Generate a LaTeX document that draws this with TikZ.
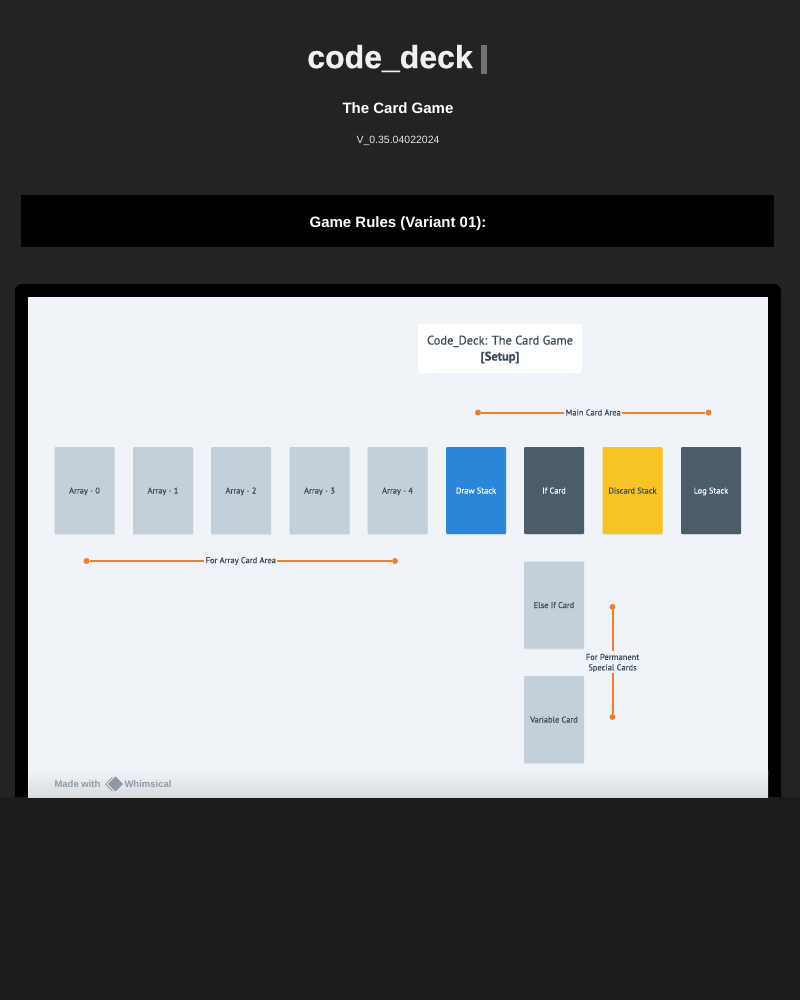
\documentclass[tikz,border=0pt]{standalone}
\usepackage{fontspec}
\setmainfont{Liberation Sans}
\newfontfamily\cardfont[RawFeature={embolden=0.3}]{PT Sans}
\newfontfamily\headfont[RawFeature={embolden=0.6}]{Liberation Sans Bold}
\usetikzlibrary{shapes.geometric,shadows}
\definecolor{pagetop}{HTML}{232323}
\definecolor{pagebottom}{HTML}{1C1C1C}
\definecolor{boardbg}{HTML}{F0F4F8}
\definecolor{cardgrey}{HTML}{C3CFD9}
\definecolor{carddark}{HTML}{4B5C6B}
\definecolor{cardblue}{HTML}{2B86D9}
\definecolor{cardyellow}{HTML}{F7C325}
\definecolor{inkdark}{HTML}{3A4A58}
\definecolor{spanorange}{HTML}{EB7F33}
\definecolor{markgrey}{HTML}{8F9AA5}
\tikzset{
  card/.style={rectangle, rounded corners=1pt, minimum width=60pt, minimum height=87pt, inner sep=0pt,
    fill=cardgrey, text=inkdark, text height=7pt, text depth=1pt, font=\cardfont\fontsize{8.4}{10}\selectfont,
    drop shadow={opacity=0.12, shadow xshift=0pt, shadow yshift=-1pt}},
  cardblue/.style={card, fill=cardblue, text=white},
  carddark/.style={card, fill=carddark, text=white},
  cardyellow/.style={card, fill=cardyellow},
  spanend/.style={circle, fill=spanorange, minimum size=6pt, inner sep=0pt},
  spanline/.style={draw=spanorange, line width=2pt},
  spanlabel/.style={fill=boardbg, text=inkdark, inner sep=1.2pt, align=center,
    font=\cardfont\fontsize{8.5}{10.5}\selectfont},
  pagetext/.style={text=white, inner sep=0pt},
}
\begin{document}
\begin{tikzpicture}[x=1pt, y=-1pt]
\useasboundingbox (0,0) rectangle (800,1000);
% page
\fill[pagetop] (0,0) rectangle (800,797);
\fill[pagebottom] (0,797) rectangle (800,1000);
\node[pagetext, font=\headfont\fontsize{32}{36}\selectfont, text=white!94!black] (title) at (390,58.5) {code\_deck};
\fill[gray!90!black] (481,45) rectangle (487,74);
\node[pagetext, font=\fontsize{15}{18}\selectfont\bfseries] (subtitle) at (398,108.5) {The Card Game};
\node[pagetext, font=\fontsize{10.5}{13}\selectfont, text=white!90!black] (version) at (398,141) {V\_0.35.04022024};
\fill[black] (21,195) rectangle (774,247);
\node[pagetext, font=\fontsize{15}{18}\selectfont\bfseries] (rules) at (398,223.5) {Game Rules (Variant 01):};
% frame
\fill[black] (15,797) -- (15,291) arc[start angle=180, end angle=270, radius=7] -- (774,284)
  arc[start angle=270, end angle=360, radius=7] -- (781,797) -- cycle;
\fill[boardbg] (28,297) rectangle (768,797);
\shade[top color=boardbg, bottom color=black!10!boardbg] (28,770) rectangle (768,797);
% heading
\node[rectangle, rounded corners=2pt, fill=white, minimum width=164pt, minimum height=50pt, align=center, inner sep=0pt,
  text=inkdark, font=\cardfont\fontsize{12.5}{16}\selectfont,
  drop shadow={opacity=0.06, shadow xshift=0pt, shadow yshift=-1pt}] (heading) at (500,348.5) {\rule{0pt}{11pt}Code\_Deck: The Card Game\\\textbf{[Setup]}};
% cards
\node[card] (array0) at (84.5,490.5) {Array - 0};
\node[card] (array1) at (163,490.5) {Array - 1};
\node[card] (array2) at (241,490.5) {Array - 2};
\node[card] (array3) at (319.5,490.5) {Array - 3};
\node[card] (array4) at (397.5,490.5) {Array - 4};
\node[cardblue] (draw) at (476,490.5) {Draw Stack};
\node[carddark] (if) at (554,490.5) {If Card};
\node[cardyellow] (discard) at (632.5,490.5) {Discard Stack};
\node[carddark] (log) at (711,490.5) {Log Stack};
\node[card] (elseif) at (554,605) {Else If Card};
\node[card] (variable) at (554,719.5) {Variable Card};
% spans
\node[spanend] (mainl) at (478,412.5) {};
\node[spanend] (mainr) at (708.5,412.5) {};
\draw[spanline] (mainl) -- node[spanlabel] (mainlabel) {Main Card Area} (mainr);
\node[spanend] (arrayl) at (86.5,561) {};
\node[spanend] (arrayr) at (395,561) {};
\draw[spanline] (arrayl) -- node[spanlabel] (arraylabel) {For Array Card Area} (arrayr);
\node[spanend] (permt) at (612.5,607) {};
\node[spanend] (permb) at (612.5,717) {};
\draw[spanline] (permt) -- node[spanlabel] (permlabel) {\rule{0pt}{8pt}For Permanent\\Special Cards} (permb);
% made with
\node[inner sep=0pt, text=markgrey, font=\fontsize{9.5}{11}\selectfont\bfseries] (madewith) at (77.5,784.5) {Made with};
\node[diamond, draw=markgrey, line width=1pt, minimum size=13pt, inner sep=0pt] (logoback) at (112,784) {};
\node[diamond, fill=markgrey, draw=boardbg, line width=0.8pt, minimum size=17pt, inner sep=0pt] (logofront) at (115.5,784) {};
\node[inner sep=0pt, text=markgrey, font=\fontsize{9.5}{11}\selectfont\bfseries] (whimsical) at (148,784.5) {Whimsical};
\end{tikzpicture}
\end{document}
